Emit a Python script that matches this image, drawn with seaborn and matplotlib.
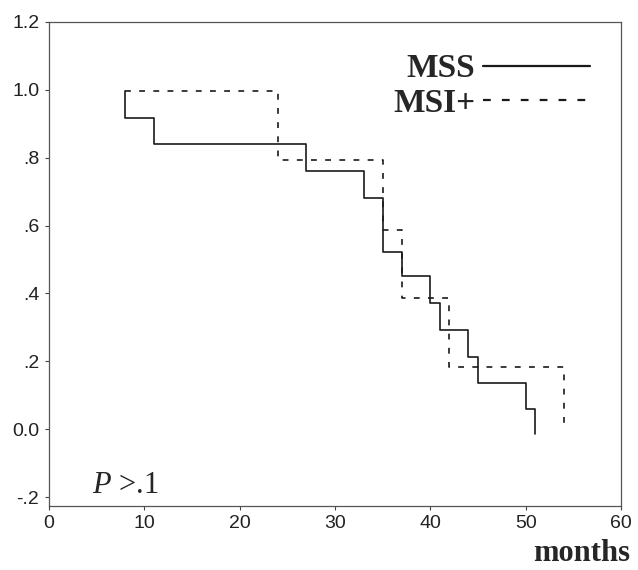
import numpy as np
import pandas as pd
import matplotlib
matplotlib.use("Agg")
import matplotlib.pyplot as plt
import seaborn as sns

# =================== Dados ===================
mss_start = 8
mss_start_level = 0.996
mss_times = [8, 11, 27, 33, 35, 37, 40, 41, 44, 45, 50, 51]
mss_levels = [0.918, 0.839, 0.760, 0.682, 0.522, 0.451, 0.372, 0.291, 0.213, 0.136, 0.058, -0.015]

msi_start = 8
msi_start_level = 0.996
msi_times = [24, 35, 37, 42, 54]
msi_levels = [0.792, 0.587, 0.388, 0.183, 0.01]

x_ticks = [0, 10, 20, 30, 40, 50, 60]
y_ticks = [-0.2, 0.0, 0.2, 0.4, 0.6, 0.8, 1.0, 1.2]
y_tick_labels = ["-.2", "0.0", ".2", ".4", ".6", ".8", "1.0", "1.2"]


# =================== Curva em degraus ===================
def km_steps(t0, s0, times, levels, group):
    xs, ys = [t0], [s0]
    prev = s0
    for t, s in zip(times, levels):
        xs += [t, t]
        ys += [prev, s]
        prev = s
    return pd.DataFrame({"months": xs, "surv": ys, "group": group})


df = pd.concat([
    km_steps(mss_start, mss_start_level, mss_times, mss_levels, "MSS"),
    km_steps(msi_start, msi_start_level, msi_times, msi_levels, "MSI+"),
], ignore_index=True)

sns.set_style("white")
plt.rcParams["font.family"] = ["Liberation Sans", "DejaVu Sans"]
plt.rcParams["mathtext.fontset"] = "custom"
plt.rcParams["mathtext.it"] = "Liberation Serif:italic"
plt.rcParams["mathtext.rm"] = "Liberation Serif"

fig = plt.figure(figsize=(6.38, 5.70), dpi=100)
ax = fig.add_axes([49 / 638, 1 - 505.5 / 570, 572 / 638, 483.5 / 570])

sns.lineplot(data=df, x="months", y="surv", hue="group", style="group",
             hue_order=["MSS", "MSI+"], style_order=["MSS", "MSI+"],
             palette={"MSS": "#1a1a1a", "MSI+": "#1a1a1a"},
             dashes={"MSS": "", "MSI+": (3.5, 5)},
             estimator=None, sort=False, linewidth=1.2, ax=ax)

ax.set_xlim(0, 60)
ax.set_ylim(-0.225, 1.2)
ax.set_xticks(x_ticks)
ax.set_yticks(y_ticks)
ax.set_yticklabels(y_tick_labels)
ax.set_xlabel("")
ax.set_ylabel("")
ax.tick_params(axis="both", which="major", labelsize=14, length=3, width=0.8,
               color="#444444", labelcolor="#222222", direction="out", pad=4,
               bottom=True, left=True)
for sp in ax.spines.values():
    sp.set_color("#555555")
    sp.set_linewidth(0.9)

# legenda: texto antes da linha
handles, labels = ax.get_legend_handles_labels()
leg = ax.legend(handles, labels, loc="upper right", bbox_to_anchor=(0.946, 0.935),
                markerfirst=False, frameon=False, handlelength=3.2, handletextpad=0.25,
                labelspacing=0.1, borderpad=0, borderaxespad=0,
                prop={"family": "Liberation Serif", "weight": "bold", "size": 24})
for line in leg.get_lines():
    line.set_linewidth(1.6)

ax.text(4.5, -0.189, "$P$ >.1", fontsize=22, family="Liberation Serif", va="baseline")
fig.text(630 / 638, 1 - 561 / 570, "months", ha="right", va="baseline",
         fontsize=22, family="Liberation Serif", weight="bold")

fig.savefig("out.png", dpi=100)
plt.close(fig)
